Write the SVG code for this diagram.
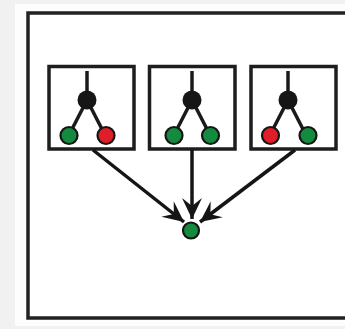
<svg xmlns="http://www.w3.org/2000/svg" width="345" height="329" viewBox="0 0 345 329">
  <style>
    .frame { fill: #ffffff; stroke: #222222; stroke-width: 3.5; }
    .box { fill: #ffffff; stroke: #1e1e1e; stroke-width: 3.5; }
    .edge { stroke: #1a1a1a; stroke-width: 3.5; stroke-linecap: butt; fill: none; }
    .root { fill: #161616; }
    .leaf { stroke: #151515; stroke-width: 2.2; }
    .ok { fill: #138a3e; }
    .bad { fill: #e11d2a; }
    .link { stroke: #151515; stroke-width: 3.5; fill: none; }
  </style>
  <defs>
    <marker id="dart" viewBox="-22 -12 24 24" refX="0" refY="0" markerWidth="24" markerHeight="24" markerUnits="userSpaceOnUse" orient="auto">
      <path d="M0,0 L-21,-10 L-13,0 L-21,10 Z" fill="#151515"/>
    </marker>
    <g id="tree">
      <line class="edge" x1="0" y1="-29" x2="0" y2="0"/>
      <line class="edge" x1="0" y1="0" x2="-18" y2="35"/>
      <line class="edge" x1="0" y1="0" x2="18" y2="35"/>
      <circle class="root" cx="0" cy="0" r="9.5"/>
    </g>
  </defs>

  <!-- page background -->
  <rect x="0" y="0" width="345" height="329" fill="#f1f1f1"/>
  <rect x="15" y="4" width="330" height="322" fill="#fdfdfd"/>

  <!-- outer frame -->
  <rect class="frame" x="28" y="13" width="340" height="305"/>

  <!-- tree 1 -->
  <g id="node-a">
    <rect class="box" x="49" y="66.5" width="85" height="82.5"/>
    <use href="#tree" x="87" y="100"/>
    <circle class="leaf ok" cx="69" cy="135.5" r="8.5"/>
    <circle class="leaf bad" cx="106" cy="135.5" r="8.5"/>
  </g>

  <!-- tree 2 -->
  <g id="node-b">
    <rect class="box" x="149.5" y="66.5" width="85.5" height="82.5"/>
    <use href="#tree" x="192" y="100"/>
    <circle class="leaf ok" cx="174" cy="135.5" r="8.5"/>
    <circle class="leaf ok" cx="210.5" cy="135.5" r="8.5"/>
  </g>

  <!-- tree 3 -->
  <g id="node-c">
    <rect class="box" x="251" y="66.5" width="85" height="82.5"/>
    <use href="#tree" x="288" y="100"/>
    <circle class="leaf bad" cx="270.5" cy="135.5" r="8.5"/>
    <circle class="leaf ok" cx="308" cy="135.5" r="8.5"/>
  </g>

  <!-- combined result -->
  <g id="node-result">
    <circle class="leaf ok" cx="191" cy="230.5" r="8"/>
  </g>

  <!-- connectors -->
  <g id="connectors">
    <line class="link" x1="93" y1="150" x2="184" y2="222" marker-end="url(#dart)"/>
    <line class="link" x1="192" y1="150" x2="192" y2="219" marker-end="url(#dart)"/>
    <line class="link" x1="295" y1="150" x2="200" y2="222" marker-end="url(#dart)"/>
  </g>
</svg>
